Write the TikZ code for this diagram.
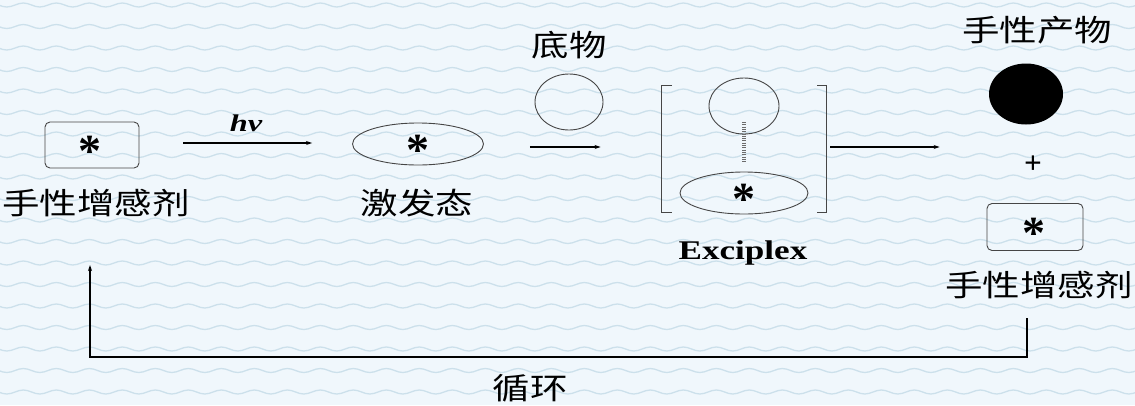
\documentclass[tikz,border=0pt]{standalone}
\usepackage{graphicx}
\usepackage{fontspec}
\setmainfont{Liberation Serif}
\newfontfamily\cjk{Noto Sans CJK SC}
\newcommand\widecjk[1]{\scalebox{1.25}[1]{\cjk\fontsize{30}{32}\selectfont #1}}
\usetikzlibrary{shapes.geometric,arrows.meta,decorations.pathmorphing}
\definecolor{bgblue}{RGB}{240,247,252}
\definecolor{wavec}{RGB}{204,224,235}
\definecolor{outline}{RGB}{70,70,70}
\tikzset{
  sbox/.style={draw=outline,line width=0.9pt,rounded corners=5pt,minimum width=94pt,minimum height=46pt,inner sep=0pt},
  oval/.style={draw=outline,line width=0.9pt,ellipse,inner sep=0pt},
  cjklbl/.style={inner sep=0pt},
  star/.style={font=\bfseries\fontsize{46}{46}\selectfont,inner sep=0pt},
  flow/.style={line width=1.3pt,-{Stealth[length=6pt,width=4pt]}},
  spring/.style={draw=outline!80,line width=4pt,dash pattern=on 0.9pt off 1.4pt},
  bracket/.style={draw=outline,line width=1pt},
  wavy/.style={draw=wavec,line width=1.3pt,decorate,decoration={snake,segment length=33pt,amplitude=2pt}}
}
\begin{document}
\begin{tikzpicture}[x=1pt,y=-1pt]
\fill[bgblue] (0,0) rectangle (1135,405);
\useasboundingbox (0,0) rectangle (1135,405);
\foreach \i in {0,...,18} \draw[wavy] (-20,5+21.5*\i) -- (1160,5+21.5*\i);

% left sensitizer
\node[sbox] (sens) at (92,145) {};
\node[star] (sensstar) at (90,151) {*};
\node[cjklbl,anchor=west] (senslbl) at (2,203) {\widecjk{手性增感剂}};

% hv arrow
\node[inner sep=0pt] (hv) at (246,123) {\scalebox{1.35}[1]{\bfseries\itshape\fontsize{24}{26}\selectfont hv}};
% excited state
\node[oval,minimum width=131pt,minimum height=42pt] (exc) at (418,144) {};
\node[star] (excstar) at (418,150) {*};
\node[cjklbl] (exclbl) at (417,203) {\widecjk{激发态}};
\draw[flow,shorten <=44pt,shorten >=40pt] (sens.east |- 0,143) -- (exc.west |- 0,143);

% substrate
\node[oval,minimum width=68pt,minimum height=56pt] (sub) at (569,102) {};
\node[cjklbl] (sublbl) at (569,45) {\widecjk{底物}};

% exciplex
\node[oval,minimum width=70pt,minimum height=56pt] (csub) at (744,106) {};
\node[oval,minimum width=128pt,minimum height=42pt] (cexc) at (744,193) {};
\node[star] (cexcstar) at (744,199) {*};
\draw[spring,shorten <=16pt,shorten >=30pt] (csub.center) -- (cexc.center);
\draw[bracket] (672,85) -- (661,85) -- (661,212) -- (672,212);
\draw[bracket] (817,85) -- (826,85) -- (826,212) -- (817,212);
\node[inner sep=0pt] (exlbl) at (743,253) {\scalebox{1.3}[1]{\bfseries\fontsize{27}{29}\selectfont Exciplex}};
\draw[flow,shorten <=46pt,shorten >=79pt] (exc.east |- 0,147) -- (cexc.west |- 0,147);

% product side
\node[ellipse,fill=black,minimum width=74pt,minimum height=61pt,inner sep=0pt] (prod) at (1026,94) {};
\node[cjklbl] (prodlbl) at (1037,30) {\widecjk{手性产物}};
\node[inner sep=0pt] (plus) at (1033,165) {\scalebox{1.3}{\bfseries\fontsize{24}{24}\selectfont +}};
\node[sbox,minimum width=96pt,minimum height=47pt] (sens2) at (1035,227) {};
\node[star] (sens2star) at (1034,233) {*};
\node[cjklbl,anchor=east] (sens2lbl) at (1133,285) {\widecjk{手性增感剂}};
\draw[flow,shorten <=22pt,shorten >=47pt] (cexc.east |- 0,147) -- (sens2.west |- 0,147);

% feedback loop
\coordinate (fbtop) at (1027,318);
\coordinate (fbcorner) at (90,357);
\coordinate (fbend) at (90,265);
\draw[line width=1.6pt,-{Stealth[length=6pt,width=4pt]}] (fbtop) |- (fbcorner) -- (fbend);
\node[cjklbl] (looplbl) at (530,388) {\widecjk{循环}};
\end{tikzpicture}
\end{document}
